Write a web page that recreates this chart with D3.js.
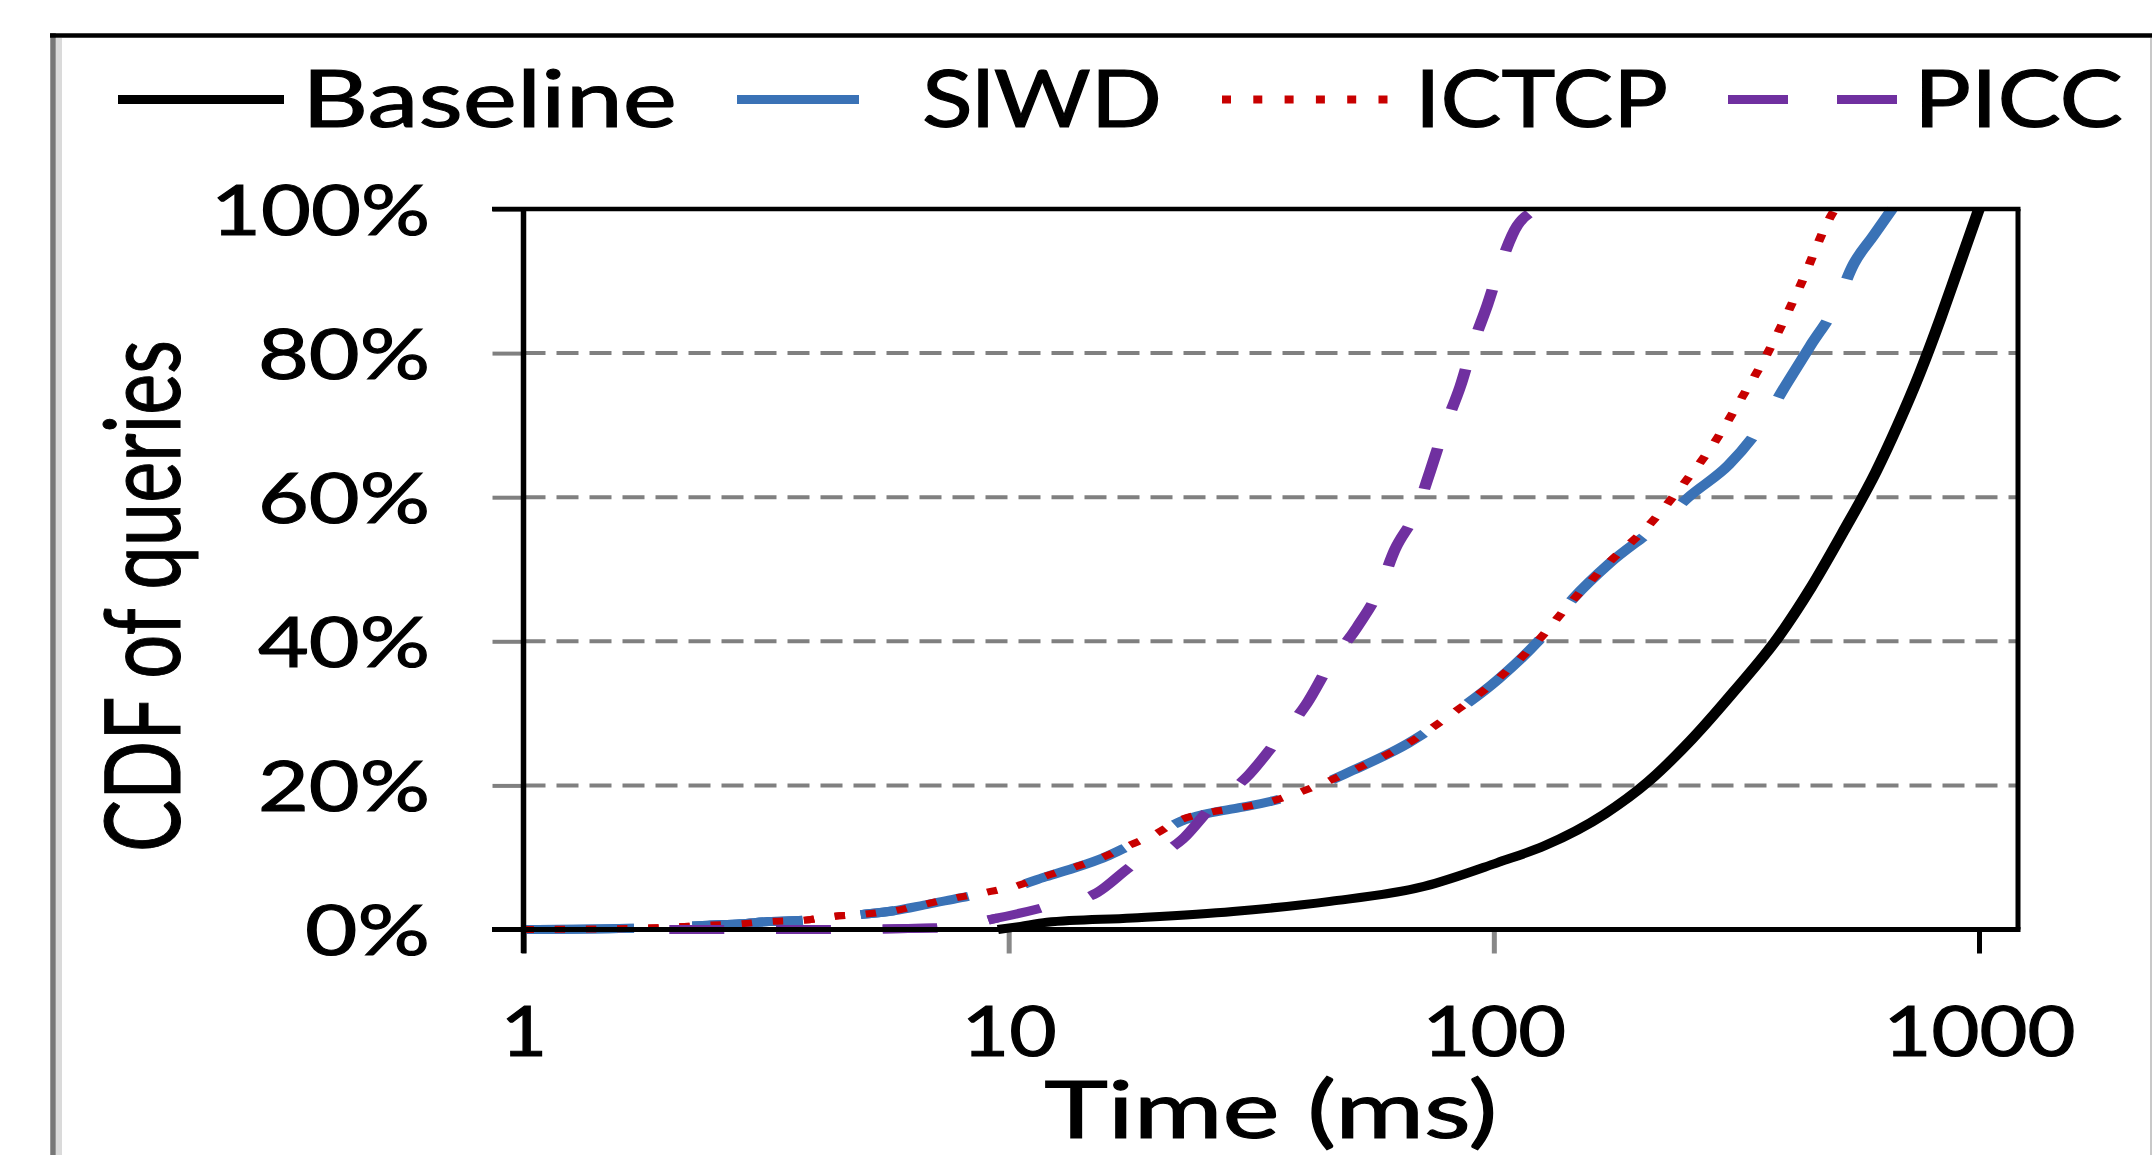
<!DOCTYPE html>
<html>
<head>
<meta charset="utf-8">
<script src="https://cdn.jsdelivr.net/npm/d3@7"></script>
<style>
  body { margin: 0; background: #fff; }
  text { font-family: Lato, "Open Sans", sans-serif; fill: #000; stroke: #000; stroke-width: 1.1px; }
</style>
</head>
<body>
<script>
// ---- data (time in ms, CDF in %) ----
var xTicks = [1, 10, 100, 1000];
var yTicks = [0, 20, 40, 60, 80, 100];
var seriesNames = ["Baseline", "SlWD", "ICTCP", "PICC"];

var baseline = [[9.5,0],[10.5,0.4],[12,1.0],[18,1.6],[29,2.5],[46,3.9],[72,6.0],[102,9.3],[127,11.6],
  [169,16.0],[208,20.5],[255,26.3],[314,33.2],[385,40.5],[450,47.4],[524,55.1],[613,63.5],
  [680,70.0],[754,77.1],[834,84.9],[903,91.5],[1000,100]];

var siwd = [[1,0],[1.5,0.1],[2,0.3],[2.4,0.6],[2.8,0.8],[3.2,1.1],[3.8,1.3],[4.3,1.7],[5,2.1],[5.8,2.6],
  [6.7,3.4],[7.8,4.3],[8.9,5.0],[10.3,5.9],[11.9,7.3],[13.6,8.5],[15.6,9.9],[17.6,11.5],[20,13.1],
  [22.6,15.0],[25.7,16.1],[29.9,16.9],[34.8,17.8],[40,19.0],[50.9,22.0],[66.4,25.8],[83,30.1],
  [102,34.7],[123,39.9],[146,46.0],[173,50.8],[216,55.9],[255,60.3],[305,64.5],[357,70.1],
  [401,75.7],[450,81.1],[505,86.4],[552,92.4],[606,96.3],[662,100]];

var ictcp = [[1,0],[1.5,0.1],[2,0.3],[2.4,0.6],[2.8,0.8],[3.2,1.1],[3.8,1.3],[4.3,1.8],[5,2.1],[5.8,2.6],
  [6.7,3.5],[7.8,4.4],[8.9,5.1],[10.3,6.0],[11.9,7.4],[13.6,8.6],[15.6,10.0],[17.6,11.6],[20,13.2],
  [22.6,15.2],[25.7,16.2],[29.9,16.9],[34.8,17.8],[40,19.1],[50.9,22.0],[66.4,25.8],[83,30.2],
  [102,34.8],[123,40.0],[145,45.6],[173,51.0],[208,56.0],[245,61.7],[285,67.6],[323,73.6],
  [364,79.6],[427,89.2],[493,98.8],[505,100]];

var picc = [[2,0],[4,0],[7,0.2],[9.5,1.6],[11.7,3.0],[15.2,5.1],[17.9,8.8],[22.8,12.5],[26.1,16.9],
  [31.3,21.5],[35.9,26.4],[41.1,31.3],[45.7,36.6],[52.3,42.0],[57.9,47.0],[62.5,52.7],[69.3,58.1],
  [74,63.7],[79,69.5],[85.3,75.4],[90.5,81.1],[97,86.7],[103.4,92.4],[111.8,97.7],[124,100]];

var seriesData = [baseline, siwd, ictcp, picc];

// ---- styles ----
var colors = ["#000000", "#3A72B6", "#C80000", "#7030A0"];
var widths = [9, 9, 7, 9];
var plotDash = [null, "85,45", "8,16", "42,40"];

var width = 2152, height = 1155;
var plot = {left: 523.5, right: 2018, top: 209, bottom: 929.5};
var SX = 1.3;   // the figure is stretched sideways, strokes included

var svg = d3.select("body").append("svg")
    .attr("width", width)
    .attr("height", height);

svg.append("rect").attr("width", width).attr("height", height).attr("fill", "#fff");

var x = d3.scaleLog().domain([1, 1000]).range([plot.left, 1979]);
var xs = d3.scaleLog().domain([1, 1000]).range([plot.left / SX, 1979 / SX]);
var y = d3.scaleLinear().domain([0, 100]).range([plot.bottom, plot.top]);

function fit(sel, w) {
    sel.attr("textLength", w).attr("lengthAdjust", "spacingAndGlyphs");
}

// outer frame
svg.append("line").attr("x1", 59).attr("x2", 59).attr("y1", 38).attr("y2", height)
    .attr("stroke", "#dadada").attr("stroke-width", 6);
svg.append("line").attr("x1", 53).attr("x2", 53).attr("y1", 33).attr("y2", height)
    .attr("stroke", "#777").attr("stroke-width", 5.5);
svg.append("line").attr("x1", 50).attr("x2", width).attr("y1", 35.5).attr("y2", 35.5)
    .attr("stroke", "#000").attr("stroke-width", 4.5);
svg.append("line").attr("x1", 2151).attr("x2", 2151).attr("y1", 38).attr("y2", height)
    .attr("stroke", "#c8c8c8").attr("stroke-width", 2);

// gridlines
svg.selectAll(".grid")
    .data(yTicks.filter(function(d){ return d > 0 && d < 100; }))
    .enter().append("line")
    .attr("class", "grid")
    .attr("x1", plot.left).attr("x2", plot.right)
    .attr("y1", function(d){ return y(d); }).attr("y2", function(d){ return y(d); })
    .attr("stroke", "#808080").attr("stroke-width", 4)
    .attr("stroke-dasharray", "22,11");

// y axis
var yAxis = svg.append("g")
    .attr("transform", "translate(" + plot.left + ",0)")
    .call(d3.axisLeft(y).tickValues(yTicks).tickSize(31).tickPadding(62.5)
        .tickFormat(function(d){ return d + "%"; }));
yAxis.select(".domain").remove();
yAxis.selectAll(".tick line")
    .attr("stroke", function(d){ return (d === 0 || d === 100) ? "#000" : "#808080"; })
    .attr("stroke-width", 4);
yAxis.selectAll(".tick text")
    .attr("dy", 0).attr("y", 25)
    .style("font-size", "70px")
    .each(function(d){ fit(d3.select(this), String(d).length * 47 + 78); });

// x axis
var xAxis = svg.append("g")
    .attr("transform", "translate(0," + plot.bottom + ")")
    .call(d3.axisBottom(x).tickValues(xTicks).tickSize(24)
        .tickFormat(d3.format("d")));
xAxis.select(".domain").remove();
xAxis.selectAll(".tick line")
    .attr("stroke", function(d){ return (d === 10 || d === 100) ? "#888" : "#000"; })
    .attr("stroke-width", 5);
xAxis.selectAll(".tick text")
    .attr("dy", 0).attr("y", 126.5)
    .style("font-size", "69px")
    .each(function(d){ fit(d3.select(this), String(d).length * 48.5 - 2); });

// curves, drawn in the unstretched frame and then stretched
var curves = svg.append("g").attr("transform", "scale(" + SX + ",1)");
var line = d3.line()
    .x(function(d){ return xs(d[0]); })
    .y(function(d){ return y(d[1]); })
    .curve(d3.curveMonotoneX);

seriesData.forEach(function(s, i){
    curves.append("path")
        .datum(s)
        .attr("d", line)
        .attr("fill", "none")
        .attr("stroke", colors[i])
        .attr("stroke-width", widths[i])
        .attr("stroke-dasharray", plotDash[i]);
});

// plot box and axis lines on top
svg.append("line").attr("x1", 492).attr("x2", plot.right + 2.5)
    .attr("y1", plot.top).attr("y2", plot.top)
    .attr("stroke", "#000").attr("stroke-width", 4.5);
svg.append("line").attr("x1", plot.right).attr("x2", plot.right)
    .attr("y1", plot.top).attr("y2", plot.bottom)
    .attr("stroke", "#000").attr("stroke-width", 5);
svg.append("line").attr("x1", plot.left).attr("x2", plot.left)
    .attr("y1", plot.top - 2).attr("y2", 953)
    .attr("stroke", "#000").attr("stroke-width", 5.5);
svg.append("line").attr("x1", 492).attr("x2", plot.right + 2.5)
    .attr("y1", plot.bottom).attr("y2", plot.bottom)
    .attr("stroke", "#000").attr("stroke-width", 5);

// colored lines lie over the 0% axis line
curves.selectAll(".low")
    .data(seriesData.slice(1))
    .enter().append("path")
    .attr("d", function(s){ return line(s.filter(function(p){ return p[1] < 3; })); })
    .attr("fill", "none")
    .attr("stroke", function(s, i){ return colors[i + 1]; })
    .attr("stroke-width", function(s, i){ return widths[i + 1]; })
    .attr("stroke-dasharray", function(s, i){ return plotDash[i + 1]; });

// axis titles
svg.append("text")
    .attr("x", (plot.left + plot.right) / 2).attr("y", 1138)
    .attr("text-anchor", "middle")
    .style("font-size", "79px")
    .text("Time (ms)")
    .call(fit, 453);

svg.append("text")
    .attr("transform", "translate(180,596) rotate(-90)")
    .attr("text-anchor", "middle")
    .style("font-size", "105px")
    .text("CDF of queries")
    .call(fit, 512);

// legend
var legendX1 = [118, 737, 1222, 1728],
    legendX2 = [284, 859, 1394, 1897],
    legendTx = [302, 922, 1415, 1914],
    legendTw = [375, 240, 253, 209],
    legendDash = [null, null, "9,22.3", "60,49"],
    legendW = [9, 9, 8, 9];
var legendY = 99.5;

var legend = svg.append("g").attr("class", "legend");
seriesNames.forEach(function(name, i){
    legend.append("line")
        .attr("x1", legendX1[i]).attr("x2", legendX2[i])
        .attr("y1", legendY).attr("y2", legendY)
        .attr("stroke", colors[i])
        .attr("stroke-width", legendW[i])
        .attr("stroke-dasharray", legendDash[i]);
    legend.append("text")
        .attr("x", legendTx[i]).attr("y", 127)
        .style("font-size", "80px")
        .text(name)
        .call(fit, legendTw[i]);
});
</script>
</body>
</html>
